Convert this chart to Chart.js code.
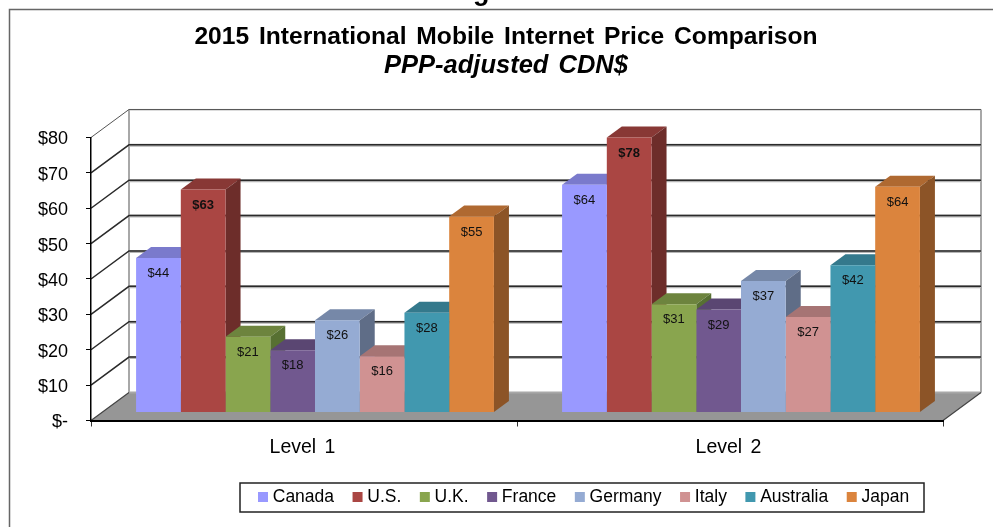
<!DOCTYPE html>
<html><head><meta charset="utf-8">
<style>html,body{margin:0;padding:0;background:#fff;overflow:hidden}#wrap{width:993px;height:527px;position:relative}</style>
<script src="https://cdn.jsdelivr.net/npm/chart.js@4/dist/chart.umd.min.js"></script>
</head><body><div id="wrap"><canvas id="c" width="993" height="527"></canvas></div>
<script>
const categories = ['Level 1', 'Level 2'];
const seriesNames = ['Canada', 'U.S.', 'U.K.', 'France', 'Germany', 'Italy', 'Australia', 'Japan'];
const canada = [43.7, 64.4];
const us = [63.0, 77.7];
const uk = [21.4, 30.6];
const france = [17.6, 29.1];
const germany = [26.1, 37.2];
const italy = [15.9, 27.0];
const australia = [28.2, 41.6];
const japan = [55.4, 63.8];
const seriesValues = [canada, us, uk, france, germany, italy, australia, japan];
const frontColors = ['#9999FF', '#AA4643', '#89A54E', '#71588F', '#95ABD3', '#D09292', '#4198AF', '#DB843D'];
const topColors = ['#7A7ACC', '#883835', '#6D843E', '#5A4672', '#7688A8', '#A67474', '#34798C', '#AF6931'];
const sideColors = ['#6060A8', '#6D2D2A', '#577032', '#483A5C', '#5F6D87', '#855D5D', '#2A6170', '#8C5427'];
const yTickLabels = ['$-', '$10', '$20', '$30', '$40', '$50', '$60', '$70', '$80'];
const boldSeries = ['U.S.'];
const titleText = '2015 International Mobile Internet Price Comparison';
const subtitleText = 'PPP-adjusted CDN$';
const clippedHeading = 'Figure 3';

const FONT = '"Liberation Sans", Arial, sans-serif';
const wall = { dx: 38, dy: -28 };      // depth of the chart box
const barDepth = { dx: 15, dy: -11 };  // depth of each bar
const barShift = { dx: 11, dy: -8 };   // bars stand inside the floor

const threeD = {
  id: 'threeD',
  beforeDraw(chart) {
    const { ctx, width, height } = chart;
    ctx.wordSpacing = '3px';
    ctx.save();
    ctx.fillStyle = '#fff';
    ctx.fillRect(0, 0, width, height);
    // outer frame of the pasted chart
    ctx.strokeStyle = '#666';
    ctx.lineWidth = 1.5;
    ctx.beginPath();
    ctx.moveTo(9.5, height + 2);
    ctx.lineTo(9.5, 9.5);
    ctx.lineTo(width + 2, 9.5);
    ctx.stroke();
    // heading cut off above the frame
    ctx.fillStyle = '#000';
    ctx.font = 'bold 27px ' + FONT;
    ctx.textAlign = 'center';
    ctx.textBaseline = 'alphabetic';
    ctx.fillText(clippedHeading, 503, 0);
    ctx.restore();
  },
  afterLayout(chart) {
    const lg = chart.legend;
    const pad = lg.options.labels.padding;
    lg.left = 262 - pad; lg.right = 2000; lg.top = 497 - 8.75 - pad;
    chart.boxes.forEach(b => {
      if (b.options && (b.options.text === titleText || b.options.text === subtitleText)) {
        b.left = 69; b.right = 943;
      }
    });
  },
  beforeDatasetsDraw(chart) {
    const { ctx, chartArea: a, scales: { x, y } } = chart;
    ctx.save();
    const L = a.left, R = a.right, B = y.getPixelForValue(0);
    const T = y.getPixelForValue(80);
    const d = wall;
    // floor
    ctx.fillStyle = '#969696';
    ctx.beginPath();
    ctx.moveTo(L, B); ctx.lineTo(R, B); ctx.lineTo(R + d.dx, B + d.dy); ctx.lineTo(L + d.dx, B + d.dy);
    ctx.closePath(); ctx.fill();
    // wall edges
    ctx.strokeStyle = '#a8a8a8';
    ctx.lineWidth = 2;
    ctx.beginPath();
    ctx.moveTo(L + d.dx, T + d.dy); ctx.lineTo(L + d.dx, B + d.dy); ctx.lineTo(R + d.dx, B + d.dy);
    ctx.moveTo(R + d.dx, T + d.dy); ctx.lineTo(R + d.dx, B + d.dy);
    ctx.stroke();
    ctx.strokeStyle = '#444';
    ctx.lineWidth = 1.2;
    ctx.beginPath();
    ctx.moveTo(R + d.dx, B + d.dy); ctx.lineTo(R, B);
    ctx.moveTo(L, B); ctx.lineTo(L + d.dx, B + d.dy);
    ctx.stroke();
    // gridlines on left and back walls
    y.ticks.forEach(t => {
      if (t.value === 0) return;
      const py = y.getPixelForValue(t.value);
      const top = t.value === 80;
      ctx.strokeStyle = '#b5b5b5';
      ctx.lineWidth = top ? 1 : 3;
      ctx.beginPath();
      ctx.moveTo(L + d.dx, py + d.dy + 0.5); ctx.lineTo(R + d.dx, py + d.dy + 0.5);
      ctx.stroke();
      ctx.strokeStyle = top ? '#555' : '#2a2a2a';
      ctx.lineWidth = top ? 1 : 1.5;
      ctx.beginPath();
      ctx.moveTo(L, py); ctx.lineTo(L + d.dx, py + d.dy);
      ctx.lineTo(R + d.dx, py + d.dy);
      ctx.stroke();
    });
    // 3D faces behind the bar fronts
    ctx.translate(barShift.dx, barShift.dy);
    categories.forEach((_, i) => {
      chart.data.datasets.forEach((ds, k) => {
        const el = chart.getDatasetMeta(k).data[i];
        const l = el.x - el.width / 2, r = el.x + el.width / 2, t = el.y, b = el.base;
        const e = barDepth;
        ctx.fillStyle = topColors[k];
        ctx.beginPath();
        ctx.moveTo(l, t); ctx.lineTo(r, t); ctx.lineTo(r + e.dx, t + e.dy); ctx.lineTo(l + e.dx, t + e.dy);
        ctx.closePath(); ctx.fill();
        ctx.fillStyle = sideColors[k];
        ctx.beginPath();
        ctx.moveTo(r, t); ctx.lineTo(r + e.dx, t + e.dy); ctx.lineTo(r + e.dx, b + e.dy); ctx.lineTo(r, b);
        ctx.closePath(); ctx.fill();
      });
    });
    ctx.restore();
    // bar fronts are drawn by the library inside this shift
    ctx.save();
    ctx.translate(barShift.dx, barShift.dy);
  },
  afterDatasetsDraw(chart) {
    const { ctx } = chart;
    ctx.restore();
    ctx.save();
    ctx.translate(barShift.dx, barShift.dy);
    ctx.textAlign = 'center';
    ctx.textBaseline = 'middle';
    ctx.fillStyle = '#111';
    chart.data.datasets.forEach((ds, k) => {
      ctx.font = (boldSeries.includes(ds.label) ? 'bold ' : '') + '13px ' + FONT;
      chart.getDatasetMeta(k).data.forEach((el, i) => {
        ctx.fillText('$' + Math.round(ds.data[i]), el.x, el.y + 15.5);
      });
    });
    ctx.restore();
  },
  afterDraw(chart) {
    const { ctx } = chart;
    ctx.save();
    ctx.strokeStyle = '#222';
    ctx.lineWidth = 1.5;
    ctx.strokeRect(240, 483, 684, 29);
    ctx.restore();
  }
};

new Chart(document.getElementById('c'), {
  type: 'bar',
  data: {
    labels: categories,
    datasets: seriesNames.map((name, k) => ({
      label: name,
      data: seriesValues[k],
      backgroundColor: frontColors[k],
      borderWidth: 0,
      categoryPercentage: 0.84,
      barPercentage: 1,
      clip: false
    }))
  },
  plugins: [threeD],
  options: {
    responsive: false,
    animation: false,
    layout: { padding: { left: 0, right: 50, top: 0, bottom: 0 } },
    plugins: {
      tooltip: { enabled: false },
      title: {
        display: true, text: titleText, color: '#000',
        font: { family: FONT, size: 24.6, weight: 'bold', lineHeight: 1.2 },
        padding: { top: 22, bottom: 0 }
      },
      subtitle: {
        display: true, text: subtitleText, color: '#000',
        font: { family: FONT, size: 25.5, weight: 'bold', style: 'italic', lineHeight: 1.12 },
        padding: { top: 0, bottom: 57.4 }
      },
      legend: {
        position: 'bottom',
        align: 'start',
        labels: {
          usePointStyle: true, pointStyle: 'rect', boxWidth: 2, boxHeight: 10,
          padding: 22.5, color: '#000',
          font: { family: FONT, size: 17.5 }
        }
      }
    },
    scales: {
      x: {
        border: { color: '#000', width: 2, z: 1 },
        grid: { drawOnChartArea: false, color: '#333', tickLength: 6, offset: true, z: 1 },
        ticks: { color: '#000', font: { family: FONT, size: 19.5 }, padding: 9, maxRotation: 0, labelOffset: -1.5 },
        afterFit(s) { s.height = 106.5 - (s.chart.legend ? s.chart.legend.height : 0); }
      },
      y: {
        min: 0, max: 80,
        border: { color: '#000', width: 1.5, z: 1 },
        grid: { drawOnChartArea: false, color: '#000', tickLength: 5, z: 1 },
        ticks: {
          stepSize: 10, color: '#000', padding: 18, labelOffset: 2,
          font: { family: FONT, size: 18 },
          callback(v, i) { return yTickLabels[i]; }
        },
        afterFit(s) { s.width = 91; }
      }
    }
  }
});
</script></body></html>
